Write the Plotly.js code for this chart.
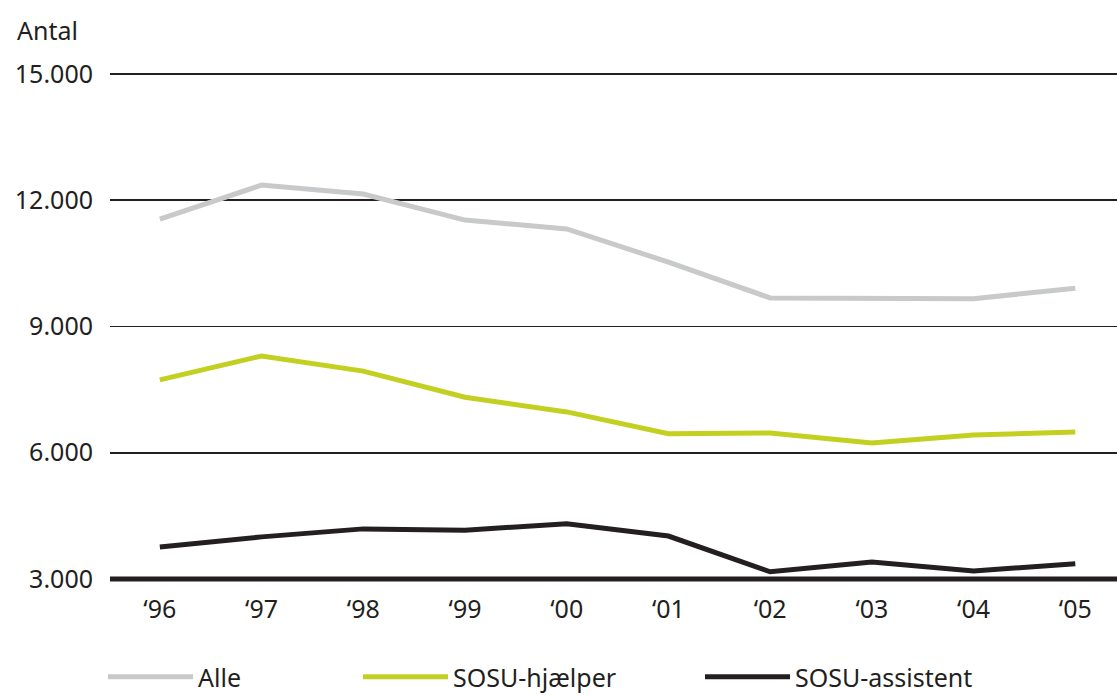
<!DOCTYPE html>
<html>
<head>
<meta charset="utf-8">
<script src="https://cdn.plot.ly/plotly-3.0.1.min.js"></script>
<style>html,body{margin:0;padding:0;background:#fff;}#chart{width:1117px;height:695px;}</style>
</head>
<body>
<div id="chart"></div>
<script>
const years = ["‘96","‘97","‘98","‘99","‘00","‘01","‘02","‘03","‘04","‘05"];
const alle = [11550, 12360, 12150, 11530, 11320, 10530, 9680, 9680, 9660, 9910];
const hjaelper = [7730, 8300, 7940, 7320, 6970, 6450, 6470, 6230, 6420, 6490];
const assistent = [3760, 4000, 4190, 4160, 4310, 4020, 3170, 3400, 3190, 3360];
const yTicks = [3000, 6000, 9000, 12000, 15000];
const yTickText = ["3.000", "6.000", "9.000", "12.000", "15.000"];

const FONT = "Noto Sans, Open Sans, sans-serif";
const FS = 25;
const idx = years.map((_, i) => i);

const traces = [
  {x: idx, y: alle, name: "Alle", mode: "lines", line: {color: "#c8c9cb", width: 5}, legend: "legend"},
  {x: idx, y: hjaelper, name: "SOSU-hjælper", mode: "lines", line: {color: "#c3d021", width: 5}, legend: "legend2"},
  {x: idx, y: assistent, name: "SOSU-assistent", mode: "lines", line: {color: "#231f20", width: 5}, legend: "legend3"}
];

function leg(px) {
  return {xref: "container", yref: "container", x: px / 1117, y: 1 - 677 / 695,
          xanchor: "left", yanchor: "middle", orientation: "h", bgcolor: "rgba(0,0,0,0)",
          font: {family: FONT, size: FS, color: "#231f20"}, itemwidth: 85};
}

const layout = {
  width: 1117, height: 695,
  margin: {l: 110, r: 0, t: 69, b: 111},
  paper_bgcolor: "#fff", plot_bgcolor: "#fff",
  showlegend: true,
  font: {family: FONT, size: FS, color: "#231f20"},
  xaxis: {
    range: [-0.49, 9.41], tickvals: idx, ticktext: years,
    showgrid: false, zeroline: false, showline: false, ticks: "",
    tickfont: {family: FONT, size: FS, color: "#231f20"}, ticklabelstandoff: 8
  },
  yaxis: {
    range: [2880, 15120], tickvals: yTicks, ticktext: yTickText,
    showgrid: true, gridcolor: "#231f20", gridwidth: 1.6, zeroline: false,
    showline: false, ticks: "", ticklabelstandoff: 16,
    tickfont: {family: FONT, size: FS, color: "#231f20"}
  },
  shapes: [
    {type: "line", xref: "paper", yref: "y", x0: 0, x1: 1, y0: 3000, y1: 3000,
     line: {color: "#231f20", width: 5}, layer: "above"}
  ],
  annotations: [
    {text: "Antal", xref: "paper", yref: "paper", x: (15 - 110) / 1007, y: (584 - 30) / 515,
     xanchor: "left", yanchor: "middle", showarrow: false,
     font: {family: FONT, size: FS, color: "#231f20"}}
  ],
  legend: leg(103), legend2: leg(358), legend3: leg(700)
};

Plotly.newPlot("chart", traces, layout, {staticPlot: true});
</script>
</body>
</html>
